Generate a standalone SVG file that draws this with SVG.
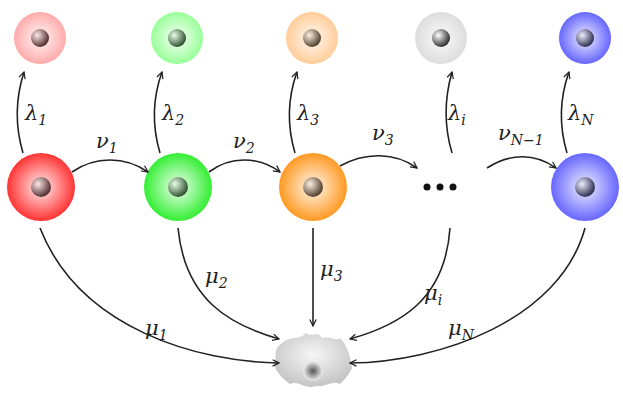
<svg xmlns="http://www.w3.org/2000/svg" width="623" height="408" viewBox="0 0 623 408">
<defs>
<radialGradient id="gR" cx="0.5" cy="0.5" r="0.5"><stop offset="0" stop-color="#fff0f0"/><stop offset="1" stop-color="#ff3333"/></radialGradient>
<radialGradient id="gG" cx="0.5" cy="0.5" r="0.5"><stop offset="0" stop-color="#f0fff0"/><stop offset="1" stop-color="#33ee33"/></radialGradient>
<radialGradient id="gO" cx="0.5" cy="0.5" r="0.5"><stop offset="0" stop-color="#fff8ee"/><stop offset="1" stop-color="#ff9922"/></radialGradient>
<radialGradient id="gB" cx="0.5" cy="0.5" r="0.5"><stop offset="0" stop-color="#f0f0ff"/><stop offset="1" stop-color="#6666ff"/></radialGradient>
<radialGradient id="gW" cx="0.5" cy="0.5" r="0.5"><stop offset="0" stop-color="#fafafa"/><stop offset="1" stop-color="#dddddd"/></radialGradient>
<radialGradient id="gRl" cx="0.5" cy="0.5" r="0.5"><stop offset="0" stop-color="#fff8f8"/><stop offset="1" stop-color="#ffaaaa"/></radialGradient>
<radialGradient id="gGl" cx="0.5" cy="0.5" r="0.5"><stop offset="0" stop-color="#f8fff8"/><stop offset="1" stop-color="#99ff99"/></radialGradient>
<radialGradient id="gOl" cx="0.5" cy="0.5" r="0.5"><stop offset="0" stop-color="#fffaf4"/><stop offset="1" stop-color="#ffcc99"/></radialGradient>
<radialGradient id="gK" cx="0.35" cy="0.35" r="0.65"><stop offset="0" stop-color="#ffffff"/><stop offset="1" stop-color="#333333"/></radialGradient>
<radialGradient id="kR" cx="0.35" cy="0.35" r="0.65"><stop offset="0" stop-color="#ffe8e8"/><stop offset="1" stop-color="#553333"/></radialGradient>
<radialGradient id="kG" cx="0.35" cy="0.35" r="0.65"><stop offset="0" stop-color="#e8ffe8"/><stop offset="1" stop-color="#335533"/></radialGradient>
<radialGradient id="kO" cx="0.35" cy="0.35" r="0.65"><stop offset="0" stop-color="#fff0e0"/><stop offset="1" stop-color="#554433"/></radialGradient>
<radialGradient id="kB" cx="0.35" cy="0.35" r="0.65"><stop offset="0" stop-color="#eeeeff"/><stop offset="1" stop-color="#333355"/></radialGradient>
<radialGradient id="gBlob" cx="0.5" cy="0.4" r="0.6"><stop offset="0" stop-color="#f6f6f6"/><stop offset="1" stop-color="#c4c4c4"/></radialGradient>
<radialGradient id="gNuc" cx="0.5" cy="0.5" r="0.5"><stop offset="0" stop-color="#555"/><stop offset="1" stop-color="#f0f0f0"/></radialGradient>
<marker id="ar" viewBox="0 0 10 10" refX="9" refY="5" markerWidth="8" markerHeight="8" orient="auto" markerUnits="userSpaceOnUse"><path d="M1,1 L9,5 L1,9" fill="none" stroke="#222" stroke-width="1.5"/></marker>
</defs>
<style>
.c{fill:none;stroke:#222;stroke-width:1.6;marker-end:url(#ar)}
.t{font-family:"DejaVu Serif","Liberation Serif",serif;font-style:italic;font-size:21px;fill:#222}
.s{font-size:14px}
</style>
<g id="top1"><circle cx="40" cy="38" r="26" fill="url(#gRl)"/><circle cx="40" cy="38" r="9" fill="url(#kR)"/></g>
<g id="top2"><circle cx="177" cy="38" r="26" fill="url(#gGl)"/><circle cx="177" cy="38" r="9" fill="url(#kG)"/></g>
<g id="top3"><circle cx="312" cy="38" r="26" fill="url(#gOl)"/><circle cx="312" cy="38" r="9" fill="url(#kO)"/></g>
<g id="topi"><circle cx="441" cy="38" r="26" fill="url(#gW)"/><circle cx="441" cy="38" r="9" fill="url(#gK)"/></g>
<g id="topN"><circle cx="585" cy="38" r="26" fill="url(#gB)"/><circle cx="585" cy="38" r="9" fill="url(#kB)"/></g>
<g id="n1"><circle cx="41" cy="187" r="34" fill="url(#gR)"/><circle cx="41" cy="187" r="10" fill="url(#kR)"/></g>
<g id="n2"><circle cx="178" cy="187" r="34" fill="url(#gG)"/><circle cx="178" cy="187" r="10" fill="url(#kG)"/></g>
<g id="n3"><circle cx="313" cy="187" r="34" fill="url(#gO)"/><circle cx="313" cy="187" r="10" fill="url(#kO)"/></g>
<g id="ni"><circle cx="427" cy="187" r="3.5" fill="#111"/><circle cx="440" cy="187" r="3.5" fill="#111"/><circle cx="453" cy="187" r="3.5" fill="#111"/></g>
<g id="nN"><circle cx="585" cy="187" r="34" fill="url(#gB)"/><circle cx="585" cy="187" r="10" fill="url(#kB)"/></g>
<g id="dead">
<path d="M282,343 C290,336 300,340 306,333 C312,338 318,330 322,338 C330,335 336,342 340,338 C347,345 350,355 352,368 C348,376 344,380 340,384 C332,380 324,388 316,386 C306,390 298,380 290,384 C282,378 276,372 274,364 C278,355 272,350 282,343 Z" fill="url(#gBlob)"/>
<circle cx="313" cy="371" r="10" fill="url(#gNuc)"/>
</g>
<g id="connectors">
<path class="c" d="M23,153 C15,126 15,100 24,72"/>
<path class="c" d="M160,153 C152,126 152,100 162,72"/>
<path class="c" d="M295,153 C287,126 287,100 297,72"/>
<path class="c" d="M452,153 C444,126 444,100 452,72"/>
<path class="c" d="M567,153 C559,126 559,100 569,72"/>
<path class="c" d="M72,172 C95,156 125,156 148,172"/>
<path class="c" d="M209,172 C230,156 258,156 280,172"/>
<path class="c" d="M340,166 C365,152 395,152 417,168"/>
<path class="c" d="M487,168 C510,153 535,153 556,168"/>
<path class="c" d="M40,228 C80,330 200,362 279,363"/>
<path class="c" d="M178,228 C185,300 230,325 279,339"/>
<path class="c" d="M313,228 L313,326"/>
<path class="c" d="M450,228 C445,300 400,325 350,339"/>
<path class="c" d="M585,228 C560,320 440,362 350,363"/>
</g>
<g id="labels">
<text class="t" x="25" y="120">λ<tspan class="s" dy="5">1</tspan></text>
<text class="t" x="162" y="120">λ<tspan class="s" dy="5">2</tspan></text>
<text class="t" x="297" y="120">λ<tspan class="s" dy="5">3</tspan></text>
<text class="t" x="448" y="120">λ<tspan class="s" dy="5">i</tspan></text>
<text class="t" x="568" y="120">λ<tspan class="s" dy="5">N</tspan></text>
<text class="t" x="96" y="148">ν<tspan class="s" dy="5">1</tspan></text>
<text class="t" x="233" y="148">ν<tspan class="s" dy="5">2</tspan></text>
<text class="t" x="372" y="140">ν<tspan class="s" dy="5">3</tspan></text>
<text class="t" x="498" y="140">ν<tspan class="s" dy="5">N−1</tspan></text>
<text class="t" x="145" y="335">μ<tspan class="s" dy="5">1</tspan></text>
<text class="t" x="205" y="283">μ<tspan class="s" dy="5">2</tspan></text>
<text class="t" x="320" y="276">μ<tspan class="s" dy="5">3</tspan></text>
<text class="t" x="424" y="300">μ<tspan class="s" dy="5">i</tspan></text>
<text class="t" x="448" y="335">μ<tspan class="s" dy="5">N</tspan></text>
</g>
</svg>
